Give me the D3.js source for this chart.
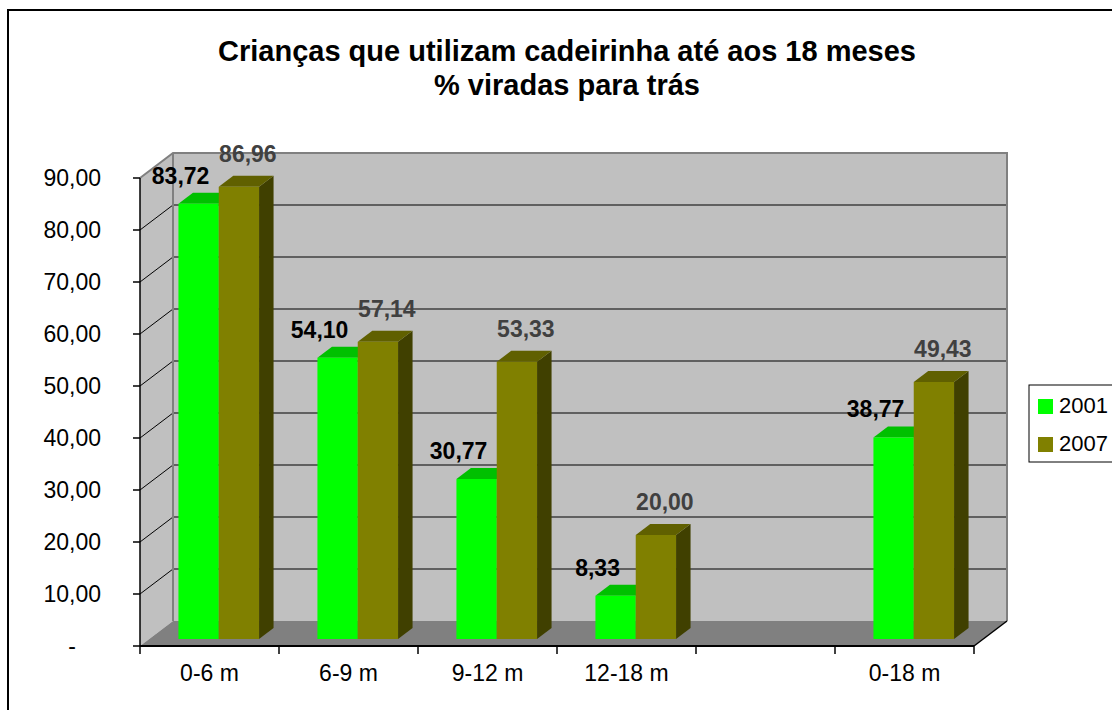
<!DOCTYPE html>
<html><head><meta charset="utf-8">
<script src="https://cdn.jsdelivr.net/npm/d3@7"></script>
<style>
html,body{margin:0;padding:0;background:#fff;overflow:hidden;}
text{font-family:Arial,"Liberation Sans",sans-serif;}
</style></head>
<body>
<script>
const categories = ["0-6 m", "6-9 m", "9-12 m", "12-18 m", "", "0-18 m"];
const seriesNames = ["2001", "2007"];
const values2001 = [83.72, 54.10, 30.77, 8.33, null, 38.77];
const values2007 = [86.96, 57.14, 53.33, 20.00, null, 49.43];
const yTicks = [0, 10, 20, 30, 40, 50, 60, 70, 80, 90];
const titleLines = ["Crianças que utilizam cadeirinha até aos 18 meses", "% viradas para trás"];

const W = 1112, H = 710;
const svg = d3.select("body").append("svg").attr("width", W).attr("height", H);

// outer border
svg.append("rect").attr("x", 8).attr("y", 10).attr("width", 1300).attr("height", 900)
  .attr("fill", "#fff").attr("stroke", "#000").attr("stroke-width", 2);

// scales
const x = d3.scaleBand().domain(categories.map((c, i) => i)).range([140, 974]).padding(0);
const y = d3.scaleLinear().domain([0, 90]).range([646, 178]);
const DX = 33, DY = 25;   // depth projection
const P = (px, py, z) => [px + z * DX, py - z * DY];
const z0 = 0.28, z1 = 0.72;

const fmt = v => v === 0 ? "-" : d3.format(".2f")(v).replace(".", ",");

// side wall
const sw = [P(140, y(90), 0), P(140, y(90), 1), P(140, y(0), 1), P(140, y(0), 0)];
svg.append("polygon").attr("points", sw.map(p => p.join(",")).join(" ")).attr("fill", "#c0c0c0");
// back wall
const bw = [P(140, y(90), 1), P(974, y(90), 1), P(974, y(0), 1), P(140, y(0), 1)];
svg.append("polygon").attr("points", bw.map(p => p.join(",")).join(" ")).attr("fill", "#c0c0c0");
// floor
const fl = [P(140, y(0), 0), P(974, y(0), 0), P(974, y(0), 1), P(140, y(0), 1)];
svg.append("polygon").attr("points", fl.map(p => p.join(",")).join(" ")).attr("fill", "#808080");

// gridlines
const gv = yTicks.filter(v => v > 0 && v < 90);
gv.forEach(v => {
  const a = P(140, y(v), 0), b = P(140, y(v), 1), c = P(974, y(v), 1);
  svg.append("path").attr("d", `M${a}L${b}L${c}`).attr("fill", "none").attr("stroke", "#000").attr("stroke-width", 1);
});
// wall borders (gray)
{
  const a = P(140, y(90), 0), b = P(140, y(90), 1), c = P(974, y(90), 1), d = P(974, y(0), 1), e = P(140, y(0), 1);
  svg.append("path").attr("d", `M${a}L${b}L${c}L${d}`).attr("fill", "none").attr("stroke", "#808080").attr("stroke-width", 2);
  svg.append("path").attr("d", `M${b}L${e}`).attr("fill", "none").attr("stroke", "#808080").attr("stroke-width", 2);
}

// bars
const colors = [
  {front: "#00ff00", top: "#00c000", side: "#008000", label: "#000"},
  {front: "#808000", top: "#606000", side: "#404000", label: "#404040"}
];
const series = [values2001, values2007];
const bw0 = x.bandwidth() * 0.29;
const barsG = svg.append("g");
const labels = [];
categories.forEach((c, i) => {
  series.forEach((vals, s) => {
    const v = vals[i];
    if (v == null) return;
    const cx = x(i) + x.bandwidth() / 2;
    const xl = cx - bw0 + s * bw0, xr = xl + bw0;
    const yt = y(v), yb = y(0);
    const f = [P(xl, yt, z0), P(xr, yt, z0), P(xr, yb, z0), P(xl, yb, z0)];
    const t = [P(xl, yt, z0), P(xl, yt, z1), P(xr, yt, z1), P(xr, yt, z0)];
    const sd = [P(xr, yt, z0), P(xr, yt, z1), P(xr, yb, z1), P(xr, yb, z0)];
    const g = barsG.append("g");
    g.append("polygon").attr("points", sd.map(p => p.join(",")).join(" ")).attr("fill", colors[s].side);
    g.append("polygon").attr("points", t.map(p => p.join(",")).join(" ")).attr("fill", colors[s].top);
    g.append("polygon").attr("points", f.map(p => p.join(",")).join(" ")).attr("fill", colors[s].front);
    const fc = P((xl + xr) / 2, yt, z0);
    labels.push({v, s, x: fc[0] + (s === 0 ? -18 : 9), y: fc[1] + (s === 0 ? -20 : -25)});
  });
});

// axes (front)
svg.append("line").attr("x1", 140).attr("x2", 140).attr("y1", y(90)).attr("y2", y(0)).attr("stroke", "#000").attr("stroke-width", 1.5);
svg.append("line").attr("x1", 140).attr("x2", 974).attr("y1", y(0)).attr("y2", y(0)).attr("stroke", "#000").attr("stroke-width", 2);
{
  const a = P(974, y(0), 0), b = P(974, y(0), 1);
  svg.append("line").attr("x1", a[0]).attr("y1", a[1]).attr("x2", b[0]).attr("y2", b[1]).attr("stroke", "#000").attr("stroke-width", 1.5);
}
yTicks.forEach(v => {
  svg.append("line").attr("x1", 133).attr("x2", 140).attr("y1", y(v)).attr("y2", y(v)).attr("stroke", "#000").attr("stroke-width", 1.5);
  const t = svg.append("text").attr("y", y(v)).attr("dy", "0.36em").attr("font-size", 23).attr("fill", "#000").text(fmt(v));
  if (v === 0) t.attr("x", 72).attr("text-anchor", "middle");
  else t.attr("x", 101).attr("text-anchor", "end");
});
const bounds = categories.map((c, i) => x(i)).concat([x(categories.length - 1) + x.bandwidth()]);
bounds.forEach(bx => {
  svg.append("line").attr("x1", bx).attr("x2", bx).attr("y1", y(0)).attr("y2", y(0) + 8).attr("stroke", "#000").attr("stroke-width", 1.5);
});
categories.forEach((c, i) => {
  svg.append("text").attr("x", x(i) + x.bandwidth() / 2).attr("y", 681).attr("text-anchor", "middle")
    .attr("font-size", 23).attr("fill", "#000").text(c);
});

// data labels
labels.forEach(l => {
  svg.append("text").attr("x", l.x).attr("y", l.y).attr("text-anchor", "middle")
    .attr("font-size", 23).attr("font-weight", "bold").attr("fill", colors[l.s].label).text(fmt(l.v));
});

// title
titleLines.forEach((t, i) => {
  svg.append("text").attr("x", 567).attr("y", 61 + i * 34).attr("text-anchor", "middle")
    .attr("font-size", 29).attr("font-weight", "bold").attr("fill", "#000").text(t);
});

// legend
const lg = svg.append("g");
lg.append("rect").attr("x", 1029).attr("y", 385).attr("width", 120).attr("height", 77)
  .attr("fill", "#fff").attr("stroke", "#000").attr("stroke-width", 1);
seriesNames.forEach((n, i) => {
  lg.append("rect").attr("x", 1038).attr("y", 399 + i * 38).attr("width", 15).attr("height", 15).attr("fill", colors[i].front);
  lg.append("text").attr("x", 1059).attr("y", 413 + i * 38).attr("font-size", 22).attr("fill", "#000").text(n);
});
</script>
</body></html>
